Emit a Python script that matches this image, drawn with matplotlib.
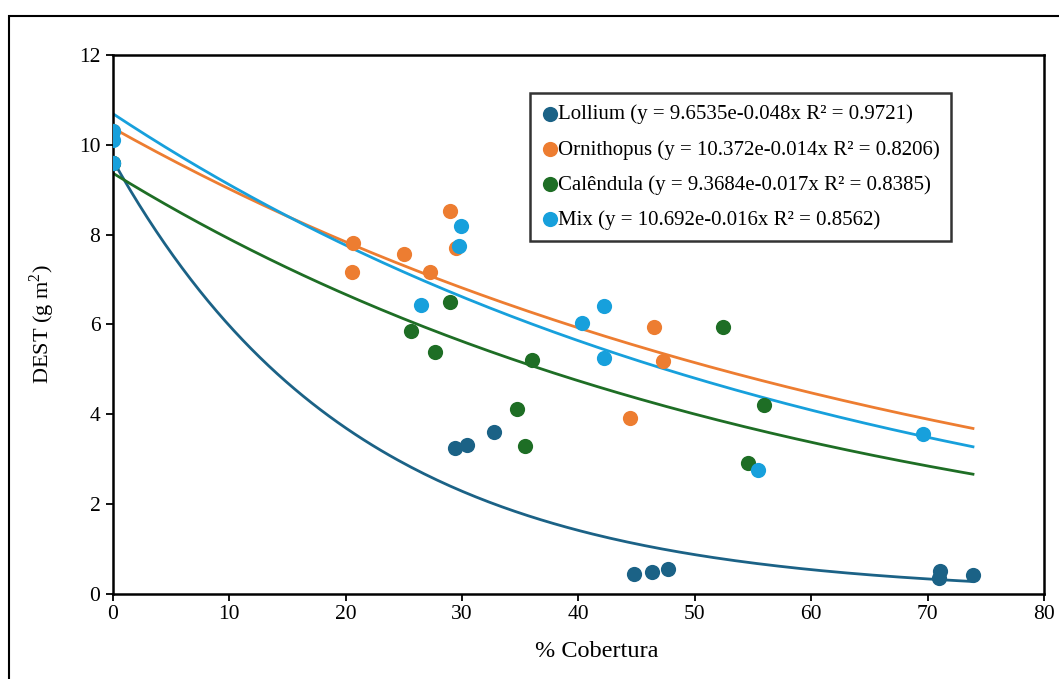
import numpy as np
import matplotlib
matplotlib.use("Agg")
import matplotlib.pyplot as plt
from matplotlib.patches import Rectangle

plt.rcParams['font.family'] = ['Liberation Serif', 'DejaVu Serif']
plt.rcParams['mathtext.fontset'] = 'custom'
plt.rcParams['mathtext.rm'] = 'Liberation Serif'

# Dados
lollium_x = [0, 29.4, 30.4, 32.7, 44.8, 46.3, 47.7, 71.0, 71.1, 73.9]
lollium_y = [9.6, 3.25, 3.32, 3.6, 0.45, 0.49, 0.56, 0.36, 0.51, 0.42]

ornithopus_x = [0, 20.6, 20.5, 25.0, 27.2, 29.0, 29.5, 46.5, 47.3, 44.4]
ornithopus_y = [10.3, 7.82, 7.17, 7.57, 7.17, 8.53, 7.7, 5.95, 5.19, 3.92]

calendula_x = [0, 25.6, 27.7, 29.0, 34.7, 35.4, 36.0, 52.4, 54.6, 55.9]
calendula_y = [9.6, 5.86, 5.39, 6.5, 4.12, 3.3, 5.21, 5.95, 2.92, 4.21]

mix_x = [0, 0, 0, 26.5, 29.9, 29.7, 40.3, 42.2, 42.2, 55.4, 69.6]
mix_y = [10.3, 10.1, 9.6, 6.44, 8.2, 7.75, 6.04, 6.41, 5.26, 2.76, 3.56]

# coeficientes das linhas de tendência exponenciais (y = a e^(b x))
coef_a = [9.6535, 10.372, 9.3684, 10.692]
coef_b = [-0.048, -0.014, -0.017, -0.016]
r2 = ["0.9721", "0.8206", "0.8385", "0.8562"]
nomes = ["Lollium", "Ornithopus", "Calêndula", "Mix"]
cores = ["#1b6286", "#ed7d31", "#1e6e25", "#17a0dc"]

series_x = [lollium_x, ornithopus_x, calendula_x, mix_x]
series_y = [lollium_y, ornithopus_y, calendula_y, mix_y]

fig = plt.figure(figsize=(10.59, 6.79), dpi=100)
ax = fig.add_axes([0.1067, 0.1252, 0.8791, 0.7938])

x_fim = max(lollium_x)
xx = np.linspace(0, x_fim, 200)

for i in range(4):
    ax.plot(xx, coef_a[i] * np.exp(coef_b[i] * xx), color=cores[i], lw=2.0, zorder=2)

for i in range(4):
    rotulo = f"{nomes[i]} (y = {coef_a[i]:g}e{coef_b[i]:.3f}x R² = {r2[i]})"
    ax.scatter(series_x[i], series_y[i], s=120, color=cores[i], label=rotulo,
               zorder=3, linewidths=0)

ax.set_xlim(0, 80)
ax.set_ylim(0, 12)
ax.set_xticks(range(0, 81, 10))
ax.set_yticks(range(0, 13, 2))
ax.tick_params(direction='out', length=5, width=1.3, labelsize=15.5, colors='black')
ax.tick_params(axis='x', pad=3)
ax.tick_params(axis='y', pad=4)
for s in ax.spines.values():
    s.set_linewidth(1.8)

ax.set_xlabel("% Cobertura", fontsize=17.5, labelpad=12)
ax.xaxis.label.set_x(0.52)
ax.set_ylabel("DEST (g m$^{2}$)", fontsize=16, labelpad=16)

leg = ax.legend(loc='upper left', bbox_to_anchor=(0.448, 0.929), fontsize=15,
                frameon=True, fancybox=False, edgecolor='black',
                handletextpad=0.0, borderpad=0.55, labelspacing=0.74,
                handlelength=0.8, scatterpoints=1, markerscale=1.0,
                borderaxespad=0)
leg.get_frame().set_linewidth(1.8)

# moldura externa
fig.patches.append(Rectangle((9 / 1059, -0.1), 1.2, 1 - 16 / 679 + 0.1,
                             transform=fig.transFigure, fill=False,
                             edgecolor='black', lw=1.5))

fig.savefig("out.png", dpi=100)
